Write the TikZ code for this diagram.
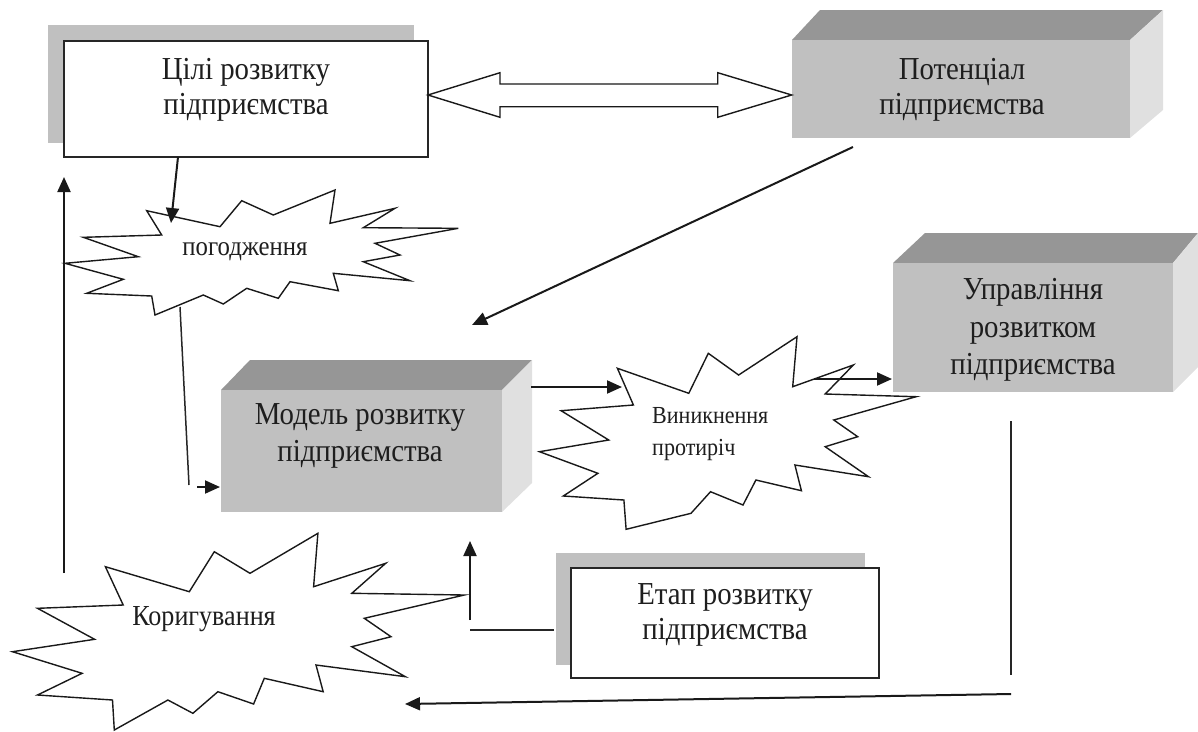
\documentclass[tikz,border=0pt]{standalone}
\usepackage{fontspec}
\setmainfont[FakeStretch=0.9]{Liberation Serif}
\usetikzlibrary{arrows.meta}
\definecolor{shadowgray}{HTML}{C0C0C0}
\definecolor{frontgray}{HTML}{C0C0C0}
\definecolor{topgray}{HTML}{969696}
\definecolor{sidegray}{HTML}{E0E0E0}
\definecolor{txt}{HTML}{1E1E1E}
\begin{document}
\begin{tikzpicture}[x=1pt,y=-1pt,
  lbl/.style={font=\fontsize{32}{35}\selectfont, align=center, text=txt, inner sep=0pt},
  starlbl/.style={font=\fontsize{24.5}{32}\selectfont, align=center, text=txt, inner sep=0pt},
  flatbox/.style={draw=black!85, line width=1.5pt, fill=white},
  shadowbox/.style={fill=shadowgray, draw=none},
  starshape/.style={draw=black!90, line width=1.4pt, fill=white, line join=miter},
  conn/.style={line width=2pt, draw=black!90},
  thinconn/.style={line width=1.5pt, draw=black!85},
  arr/.style={conn, -{Triangle[length=15pt,width=13pt]}},
  thinarr/.style={thinconn, -{Triangle[length=15pt,width=13pt]}}
]
\useasboundingbox (0,0) rectangle (1198,731);

% ---------- Цілі розвитку (flat box with shadow)
\fill[shadowbox] (48,25) rectangle (414,143);
\draw[flatbox] (64,41) rectangle (428,157);
\node[lbl] (goals) at (246,90) {Цілі розвитку\\підприємства};

% ---------- Потенціал (3D box)
\fill[topgray] (792,40) -- (820,10) -- (1163,10) -- (1130,40) -- cycle;
\fill[sidegray] (1130,40) -- (1163,10) -- (1163,110) -- (1130,138) -- cycle;
\fill[frontgray] (792,40) rectangle (1130,138);
\node[lbl] (potential) at (962,90) {Потенціал\\підприємства};

% ---------- Double arrow
\draw[line width=1.4pt, draw=black!90, fill=white, line join=miter]
  (428,95) -- (500,72.7) -- (500,84) -- (717.7,84) -- (717.7,72.7) -- (791.7,95)
  -- (717.7,117.3) -- (717.7,106.7) -- (500,106.7) -- (500,117.3) -- cycle;

% ---------- погодження star
\draw[starshape] (146.7,210.7) -- (220,226.7) -- (241.7,200.7) -- (273.3,215) -- (335,190)
  -- (330,223.3) -- (395,208.3) -- (363.3,227.7) -- (458.3,228.3) -- (375,243.3)
  -- (400,255) -- (363.3,261.7) -- (410,280.7) -- (333.3,273.3) -- (338.3,290.7)
  -- (290,281.7) -- (278.3,298.3) -- (246.7,288.3) -- (223.3,304) -- (203.3,295)
  -- (155,315) -- (151.7,296) -- (86.7,293.3) -- (123.3,279.3) -- (65,263.3)
  -- (138.3,256.7) -- (83.3,237.3) -- (161.7,235) -- cycle;
\node[starlbl, font=\fontsize{27.5}{32}\selectfont] (agree) at (245,252) {погодження};

% ---------- Модель (3D box)
\fill[topgray] (221,390) -- (250,360) -- (532,360) -- (502,390) -- cycle;
\fill[sidegray] (502,390) -- (532,360) -- (532,483) -- (502,512) -- cycle;
\fill[frontgray] (221,390) rectangle (502,512);
\node[lbl, font=\fontsize{32}{37}\selectfont] (model) at (360,436) {Модель розвитку\\підприємства};

% ---------- Виникнення протиріч star
\draw[starshape] (617.4,368.3) -- (633.4,405) -- (561.1,410.7) -- (608.7,440) -- (539.5,451.7)
  -- (597.9,473.3) -- (563.3,496) -- (623.9,500) -- (626.1,529.3) -- (691,513.3)
  -- (710.5,491.7) -- (743,505) -- (755.9,480) -- (801.4,490.7) -- (794.9,465)
  -- (868.5,476.7) -- (825.2,446.7) -- (857.7,436.7) -- (833.8,420) -- (916.1,396.7)
  -- (825.2,394) -- (853.3,365) -- (792.7,386.7) -- (797,336.7) -- (738.6,375)
  -- (708.3,353.3) -- (688.8,393.3) -- cycle;
\node[starlbl, align=left, anchor=west] (contra) at (652,434) {Виникнення\\протиріч};

% ---------- Управління (3D box)
\fill[topgray] (893,263) -- (925,233) -- (1198,233) -- (1173,263) -- cycle;
\fill[sidegray] (1173,263) -- (1198,233) -- (1198,367) -- (1173,392) -- cycle;
\fill[frontgray] (893,263) rectangle (1173,392);
\node[lbl, font=\fontsize{32}{37.5}\selectfont] (manage) at (1033,330) {Управління\\розвитком\\підприємства};

% ---------- Етап розвитку (flat box with shadow)
\fill[shadowbox] (556,553) rectangle (865,665);
\draw[flatbox] (571,568) rectangle (879,678);
\node[lbl] (stage) at (725,615) {Етап розвитку\\підприємства};

% ---------- Коригування star
\draw[starshape] (105.4,566.7) -- (189.3,591.7) -- (214.3,551.7) -- (250,573.3) -- (317.9,533.3)
  -- (313.6,586.7) -- (385.7,563.3) -- (351.8,593.3) -- (464.3,595) -- (364.3,618.3)
  -- (391,636.7) -- (351.8,646.7) -- (405.4,676.7) -- (316,665) -- (323.2,691.7)
  -- (264.3,678.3) -- (253.6,704) -- (217.9,691.7) -- (192.9,713.3) -- (167.9,700)
  -- (114.3,730) -- (112.5,700) -- (37.5,695) -- (82.1,673.3) -- (12.5,651.7)
  -- (94.6,639.3) -- (37.5,608.3) -- (123.2,605) -- cycle;
\node[font=\fontsize{29}{32}\selectfont, text=txt, inner sep=0pt] (correct) at (204,619) {Коригування};

% ---------- connector end points
\coordinate (goalsOut) at (178,157);
\coordinate (agreeIn) at (171,223);
\coordinate (potOut) at (853,147);
\coordinate (modelTop) at (472,325);
\coordinate (agreeOut) at (180,307);
\coordinate (agreeEnd) at (189,485);
\coordinate (modelInStart) at (197,487);
\coordinate (modelIn) at (220,487);
\coordinate (modelOut) at (531,387);
\coordinate (contraIn) at (622,387);
\coordinate (contraOut) at (814,379);
\coordinate (manageIn) at (892,379);
\coordinate (manageOut) at (1011,421);
\coordinate (manageDown) at (1011,675);
\coordinate (bottomStart) at (1011,694);
\coordinate (correctIn) at (405,704);
\coordinate (correctOut) at (64,573);
\coordinate (goalsIn) at (64,177);
\coordinate (stageOut) at (554,630);
\coordinate (stageCorner) at (470,630);
\coordinate (stageUpStart) at (470,620);
\coordinate (modelBottom) at (470,541);

% ---------- connectors
\draw[arr] (goalsOut) -- (agreeIn);
\draw[arr] (potOut) -- (modelTop);
\draw[thinconn] (agreeOut) -- (agreeEnd);
\draw[arr] (modelInStart) -- (modelIn);
\draw[arr] (modelOut) -- (contraIn);
\draw[arr] (contraOut) -- (manageIn);
\draw[thinconn] (manageOut) -- (manageDown);
\draw[arr] (bottomStart) -- (correctIn);
\draw[arr] (correctOut) -- (goalsIn);
\draw[thinconn] (stageOut) -- (stageCorner);
\draw[arr] (stageUpStart) -- (modelBottom);
\end{tikzpicture}
\end{document}
